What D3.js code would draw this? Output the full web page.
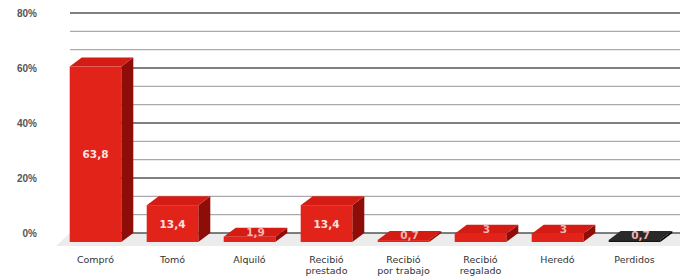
<!DOCTYPE html>
<html>
<head>
<meta charset="utf-8">
<script src="https://cdn.jsdelivr.net/npm/d3@7"></script>
<style>
  body { margin: 0; background: #fff; }
  svg { display: block; font-family: "DejaVu Sans", "Liberation Sans", Arial, sans-serif; }
</style>
</head>
<body>
<svg id="chart" width="680" height="279"></svg>
<script>
// chart data
const categories = ["Compró", "Tomó", "Alquiló", "Recibió prestado", "Recibió por trabajo", "Recibió regalado", "Heredó", "Perdidos"];
const categoryLines = [["Compró"], ["Tomó"], ["Alquiló"], ["Recibió", "prestado"], ["Recibió", "por trabajo"], ["Recibió", "regalado"], ["Heredó"], ["Perdidos"]];
const values = [63.8, 13.4, 1.9, 13.4, 0.7, 3, 3, 0.7];
const yTicks = [0, 20, 40, 60, 80];
const yTickLabels = ["0%", "20%", "40%", "60%", "80%"];

const svg = d3.select("#chart");
const width = 680, height = 279;

// back plane (grid) scale, bars are drawn in front of it
const y = d3.scaleLinear().domain([0, 80]).range([233, 13]);
const x = d3.scaleBand().domain(categories).range([57, 673]).paddingInner(0.33).paddingOuter(0.165);

const depthX = 12, depthY = 9;   // 3d offset
const gridLeft = 70;

// floor shading
svg.append("polygon")
    .attr("points", `${gridLeft - 14},${y(0) + 13} ${width},${y(0) + 13} ${width},${y(0)} ${gridLeft},${y(0)}`)
    .attr("fill", "#ececec");

// minor + major grid lines
const minor = d3.range(0, 80.01, 20 / 3);
const isMajor = d => yTicks.some(t => Math.abs(t - d) < 0.01);
svg.append("g").selectAll("line")
    .data(minor)
    .join("line")
    .attr("x1", gridLeft)
    .attr("x2", width)
    .attr("y1", d => y(d))
    .attr("y2", d => y(d))
    .attr("stroke", d => isMajor(d) ? "#555" : "#aaa")
    .attr("stroke-width", d => isMajor(d) ? 1.6 : 1.3);

// y axis labels
svg.append("g").selectAll("text")
    .data(yTicks)
    .join("text")
    .attr("x", 37)
    .attr("y", d => y(d) + 3.5)
    .attr("text-anchor", "end")
    .attr("font-family", "Liberation Sans, Arial, sans-serif")
    .attr("font-size", 10)
    .attr("font-weight", "bold")
    .attr("fill", "#555")
    .text((d, i) => yTickLabels[i]);

// bars
const fmt = d => String(d).replace(".", ",");
const bars = svg.append("g").selectAll("g")
    .data(values)
    .join("g");

function colorFor(i, part) {
    const black = categories[i] === "Perdidos";
    if (part === "front") return black ? "#151515" : "#e2231a";
    if (part === "top") return black ? "#2a2a2a" : "#d41c14";
    return black ? "#000" : "#8e0d08";
}

bars.each(function (v, i) {
    const g = d3.select(this);
    const x0 = x(categories[i]);
    const x1 = x0 + x.bandwidth();
    const yb = y(0) + depthY;
    const yt = y(v) + depthY;
    // side face
    g.append("polygon")
        .attr("points", `${x1},${yb} ${x1 + depthX},${yb - depthY} ${x1 + depthX},${yt - depthY} ${x1},${yt}`)
        .attr("fill", colorFor(i, "side"));
    // top face
    g.append("polygon")
        .attr("points", `${x0},${yt} ${x1},${yt} ${x1 + depthX},${yt - depthY} ${x0 + depthX},${yt - depthY}`)
        .attr("fill", colorFor(i, "top"));
    // front face
    g.append("rect")
        .attr("x", x0)
        .attr("y", yt)
        .attr("width", x.bandwidth())
        .attr("height", Math.max(0, yb - yt))
        .attr("fill", colorFor(i, "front"));
    // value label
    const ly = Math.min((yt + yb) / 2 + 4, yb - 1);
    g.append("text")
        .attr("x", (x0 + x1) / 2 + (v < 5 ? depthX / 2 : 0))
        .attr("y", v < 5 ? yt - 1 : ly)
        .attr("text-anchor", "middle")
        .attr("font-size", 10.5)
        .attr("font-weight", "bold")
        .attr("fill", v < 5 ? "#f3b5b0" : "#fbe3e0")
        .text(fmt(v));
});

// category labels
const catG = svg.append("g").selectAll("text")
    .data(categoryLines)
    .join("text")
    .attr("x", (d, i) => x(categories[i]) + x.bandwidth() / 2)
    .attr("y", 263)
    .attr("text-anchor", "middle")
    .attr("font-size", 9.5)
    .attr("fill", "#333");
catG.selectAll("tspan")
    .data(d => d)
    .join("tspan")
    .attr("x", function () { return d3.select(this.parentNode).attr("x"); })
    .attr("dy", (d, j) => j === 0 ? 0 : 11)
    .text(d => d);
</script>
</body>
</html>
